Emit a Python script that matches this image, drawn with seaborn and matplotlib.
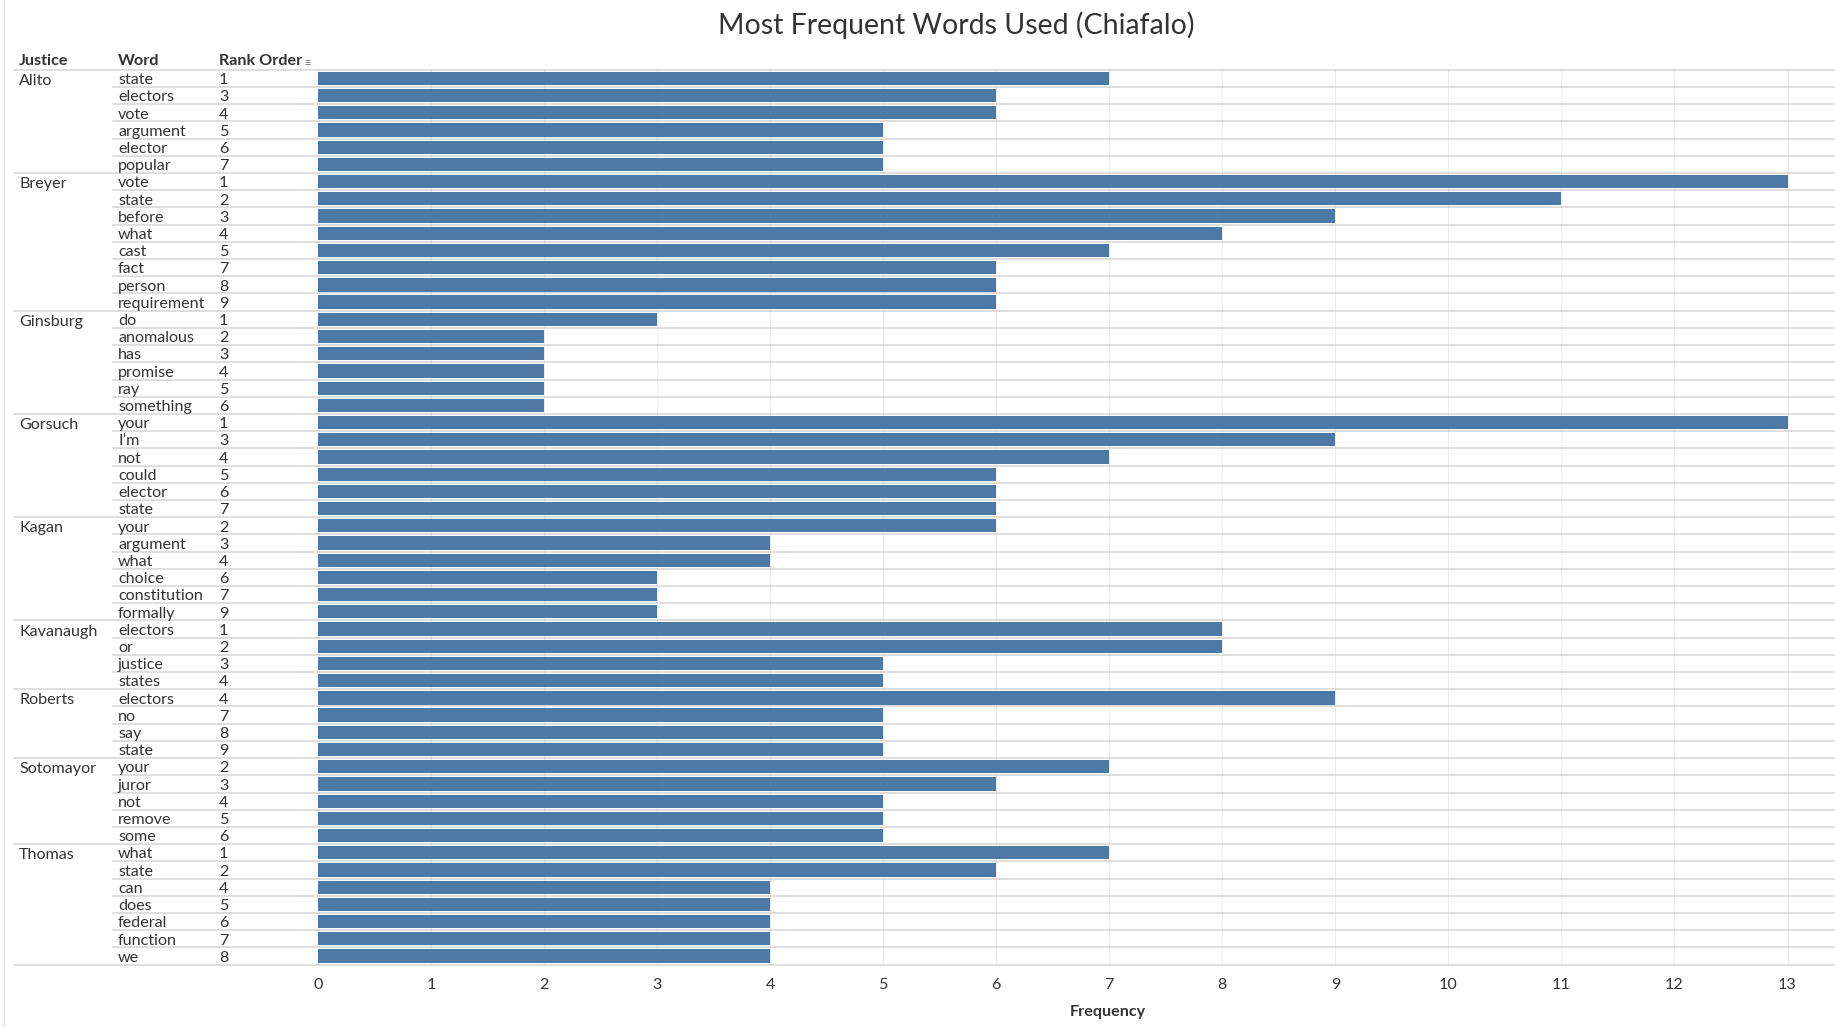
import numpy as np
import pandas as pd
import matplotlib
matplotlib.use('Agg')
import matplotlib.pyplot as plt
import matplotlib.transforms as mtransforms
from matplotlib.lines import Line2D
import seaborn as sns

# data
justices = ['Alito', 'Breyer', 'Ginsburg', 'Gorsuch', 'Kagan', 'Kavanaugh', 'Roberts', 'Sotomayor', 'Thomas']
group_sizes = [6, 8, 6, 6, 6, 4, 4, 5, 7]
words = ['state', 'electors', 'vote', 'argument', 'elector', 'popular',
         'vote', 'state', 'before', 'what', 'cast', 'fact', 'person', 'requirement',
         'do', 'anomalous', 'has', 'promise', 'ray', 'something',
         'your', 'I\u2019m', 'not', 'could', 'elector', 'state',
         'your', 'argument', 'what', 'choice', 'constitution', 'formally',
         'electors', 'or', 'justice', 'states',
         'electors', 'no', 'say', 'state',
         'your', 'juror', 'not', 'remove', 'some',
         'what', 'state', 'can', 'does', 'federal', 'function', 'we']
ranks = [1, 3, 4, 5, 6, 7,
         1, 2, 3, 4, 5, 7, 8, 9,
         1, 2, 3, 4, 5, 6,
         1, 3, 4, 5, 6, 7,
         2, 3, 4, 6, 7, 9,
         1, 2, 3, 4,
         4, 7, 8, 9,
         2, 3, 4, 5, 6,
         1, 2, 4, 5, 6, 7, 8]
freqs = [7, 6, 6, 5, 5, 5,
         13, 11, 9, 8, 7, 6, 6, 6,
         3, 2, 2, 2, 2, 2,
         13, 9, 7, 6, 6, 6,
         6, 4, 4, 3, 3, 3,
         8, 8, 5, 5,
         9, 5, 5, 5,
         7, 6, 5, 5, 5,
         7, 6, 4, 4, 4, 4, 4]

justice_col = [j for j, n in zip(justices, group_sizes) for _ in range(n)]
df = pd.DataFrame({'justice': justice_col, 'word': words, 'rank': ranks, 'freq': freqs})
df['key'] = df['justice'] + '|' + df['word'] + '|' + df['rank'].astype(str)

W, H = 1835, 1027
plt.rcParams['font.family'] = ['Lato', 'DejaVu Sans']
txt = '#333333'
grid_c = '#d4d4d4'
fs = 11.6

fig = plt.figure(figsize=(W / 100, H / 100), dpi=100)
ax = fig.add_axes([318 / W, 1 - 964.6 / H, 1 - 318 / W, (964.6 - 69.8) / H])

sns.barplot(data=df, y='key', x='freq', orient='h', color='#4E79A7', width=0.77,
            saturation=1, ax=ax, errorbar=None)
ax.set_ylim(len(df) - 0.5, -0.5)
ax.set_xlim(0, 13.42)
ax.set_yticks([])
ax.set_ylabel(None)
ax.set_xlabel(None)
for s in ax.spines.values():
    s.set_visible(False)
ax.set_xticks(range(14))
ax.tick_params(axis='x', length=0, labelsize=fs, labelcolor=txt, pad=10)
ax.grid(axis='x', color='#ededed', linewidth=0.8)
ax.set_axisbelow(True)

trans = mtransforms.blended_transform_factory(fig.transFigure, ax.transData)

# header
hy = 1 - 61 / H
for x, lab in [(19, 'Justice'), (118, 'Word'), (219, 'Rank Order')]:
    fig.text(x / W, hy, lab, fontsize=fs, fontweight='bold', color=txt, va='center')
fig.text(304 / W, hy - 0.002, '\u2261', fontsize=8, color='#666666', va='center')

# row labels and separators
dy = 0.1
start = 0
for j, n in zip(justices, group_sizes):
    ax.text(19 / W, start + 0.15, j, transform=trans, fontsize=fs, color=txt, va='center', clip_on=False)
    ax.add_line(Line2D([14 / W, 1], [start - 0.5, start - 0.5], transform=trans,
                       color=grid_c, linewidth=1.1, clip_on=False))
    for i in range(start, start + n):
        ax.text(118 / W, i + dy, df['word'][i], transform=trans, fontsize=fs, color=txt, va='center', clip_on=False)
        ax.text(219 / W, i + dy, str(df['rank'][i]), transform=trans, fontsize=fs, color=txt, va='center', clip_on=False)
        if i > start:
            ax.add_line(Line2D([113 / W, 1], [i - 0.5, i - 0.5], transform=trans,
                               color=grid_c, linewidth=1.1, clip_on=False))
    start += n
ax.add_line(Line2D([14 / W, 1], [len(df) - 0.5, len(df) - 0.5], transform=trans,
                   color=grid_c, linewidth=1.1, clip_on=False))

# left frame edge
fig.add_artist(Line2D([4 / W, 4 / W], [0, 1], transform=fig.transFigure, color='#dddddd', linewidth=1))

fig.text(956 / W, 1 - 25 / H, 'Most Frequent Words Used (Chiafalo)', fontsize=20.5, color=txt,
         ha='center', va='center')
fig.text(1108 / W, 1 - 1012 / H, 'Frequency', fontsize=fs, fontweight='bold', color=txt,
         ha='center', va='center')

fig.savefig('out.png', dpi=100)
